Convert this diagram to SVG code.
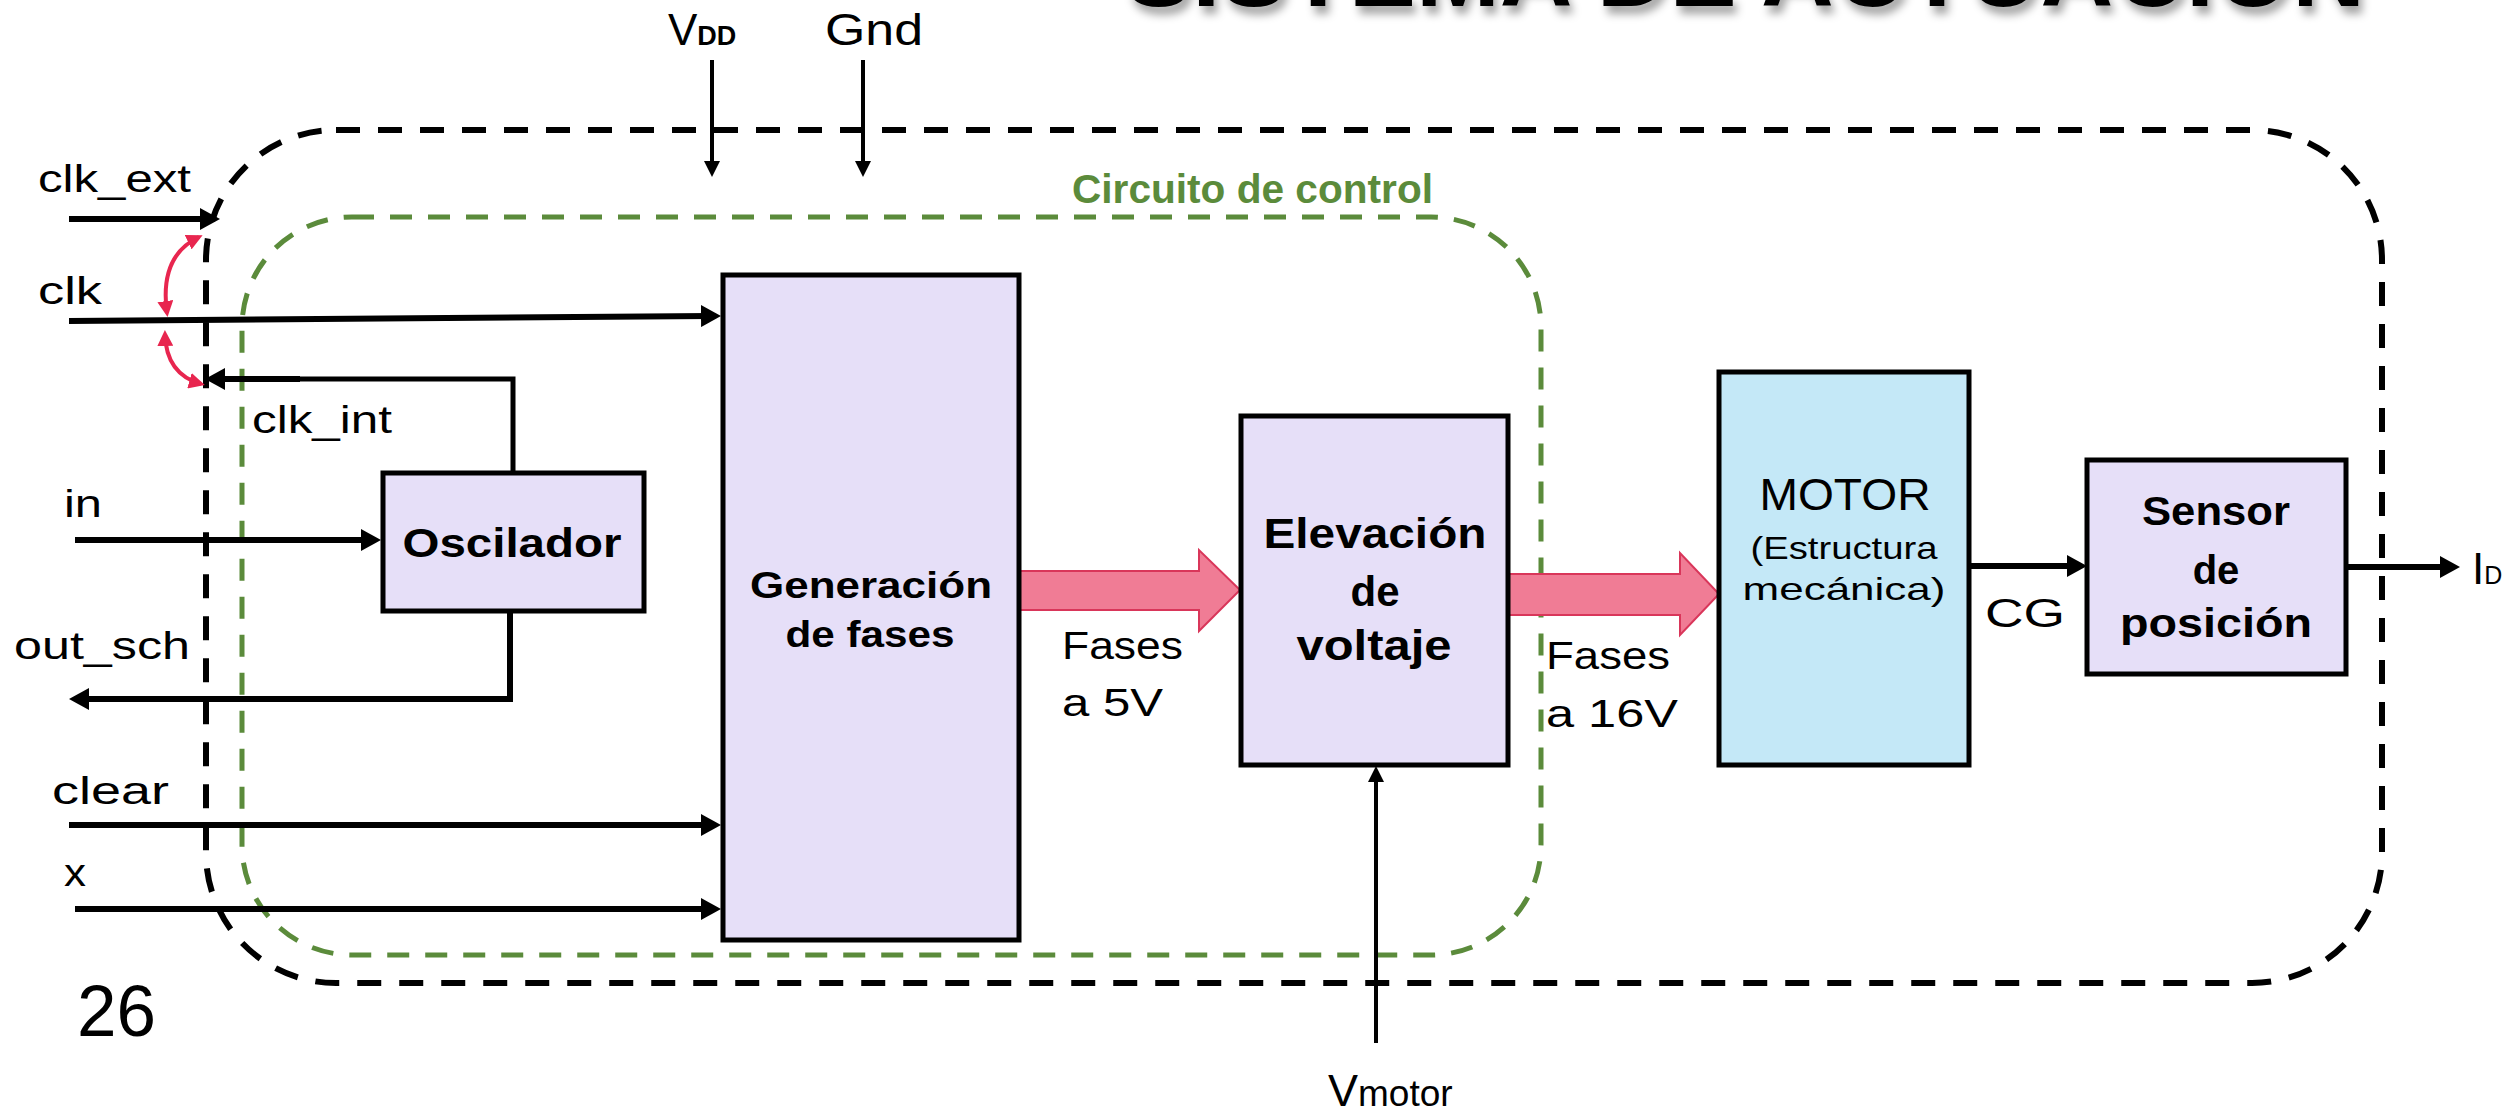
<svg xmlns="http://www.w3.org/2000/svg" width="2507" height="1113" viewBox="0 0 2507 1113">
<defs>
<style>
text{font-family:"Liberation Sans",Arial,sans-serif;fill:#000}
.lbl{font-size:38px}
.bold{font-weight:bold}
.blk{fill:#e6dff8;stroke:#000;stroke-width:5}
.mot{fill:#c4e8f7;stroke:#000;stroke-width:5}
.sig{fill:none;stroke:#000;stroke-width:6;marker-end:url(#ah)}
.thin{fill:none;stroke:#000;stroke-width:4;marker-end:url(#ahs)}
.red{fill:none;stroke:#e8264f;stroke-width:4;marker-start:url(#rh);marker-end:url(#rh)}
.fat{fill:#f07c95;stroke:#d9365a;stroke-width:2}
</style>
<marker id="ah" markerUnits="userSpaceOnUse" viewBox="0 0 20 22" refX="10" refY="11" markerWidth="20" markerHeight="22" orient="auto"><path d="M0,0 L20,11 L0,22 z" fill="#000"/></marker>
<marker id="ahs" markerUnits="userSpaceOnUse" viewBox="0 0 16 16" refX="8" refY="8" markerWidth="16" markerHeight="16" orient="auto"><path d="M0,0 L16,8 L0,16 z" fill="#000"/></marker>
<marker id="rh" markerUnits="userSpaceOnUse" viewBox="0 0 16 16" refX="12" refY="8" markerWidth="16" markerHeight="16" orient="auto-start-reverse"><path d="M0,0 L16,8 L0,16 z" fill="#e8264f"/></marker>
<filter id="sh" x="-5%" y="-50%" width="110%" height="200%"><feGaussianBlur in="SourceAlpha" stdDeviation="4"/><feOffset dx="4" dy="8" result="b"/><feFlood flood-color="#000" flood-opacity="0.35"/><feComposite in2="b" operator="in"/><feMerge><feMergeNode/><feMergeNode in="SourceGraphic"/></feMerge></filter>
</defs>
<rect width="2507" height="1113" fill="#fff"/>

<g id="title"><text x="1125" y="6" class="bold" font-size="100" textLength="1240" lengthAdjust="spacingAndGlyphs" filter="url(#sh)">SISTEMA DE ACTUACIÓN</text></g>

<g id="sistema"><rect x="206" y="130" width="2176" height="853" rx="130" fill="none" stroke="#000" stroke-width="6" stroke-dasharray="24 18"/></g>
<g id="circuito-control">
<rect x="242" y="217" width="1299" height="738" rx="110" fill="none" stroke="#5b8b3b" stroke-width="5" stroke-dasharray="22 16"/>
<text x="1072" y="203" class="bold" font-size="40" fill="#5b8b3b" style="fill:#5b8b3b" textLength="361" lengthAdjust="spacingAndGlyphs">Circuito de control</text>
</g>

<g id="connectors">
<line class="thin" x1="712" y1="60" x2="712" y2="169"/>
<line class="thin" x1="863" y1="60" x2="863" y2="169"/>
<line class="sig" x1="69" y1="219" x2="210" y2="219"/>
<line class="sig" x1="69" y1="321" x2="711" y2="316"/>
<polyline points="513,473 513,379 300,379" fill="none" stroke="#000" stroke-width="5"/>
<line class="sig" x1="300" y1="379" x2="215" y2="379"/>
<line class="sig" x1="75" y1="540" x2="371" y2="540"/>
<polyline class="sig" points="510,611 510,699 79,699"/>
<line class="sig" x1="69" y1="825" x2="711" y2="825"/>
<line class="sig" x1="75" y1="909" x2="711" y2="909"/>
<line class="sig" x1="1969" y1="566" x2="2077" y2="566"/>
<line class="sig" x1="2346" y1="567" x2="2450" y2="567"/>
<line class="thin" x1="1376" y1="1043" x2="1376" y2="774"/>
<path class="red" d="M167,313 Q159,256 199,237"/>
<path class="red" d="M165,334 Q166,374 201,384"/>
<polygon class="fat" points="1020,571 1199,571 1199,550 1240,590 1199,631 1199,610 1020,610"/>
<polygon class="fat" points="1508,574 1680,574 1680,553 1719,594 1680,635 1680,615 1508,615"/>
</g>

<g id="labels">
<text x="668" y="45" font-size="44">V<tspan class="bold" font-size="27">DD</tspan></text>
<text x="825" y="45" font-size="44" textLength="98" lengthAdjust="spacingAndGlyphs">Gnd</text>
<text x="38" y="192" class="lbl" textLength="153" lengthAdjust="spacingAndGlyphs">clk_ext</text>
<text x="38" y="304" class="lbl" textLength="64" lengthAdjust="spacingAndGlyphs">clk</text>
<text x="252" y="433" class="lbl" textLength="140" lengthAdjust="spacingAndGlyphs">clk_int</text>
<text x="64" y="517" class="lbl" textLength="38" lengthAdjust="spacingAndGlyphs">in</text>
<text x="14" y="659" class="lbl" textLength="176" lengthAdjust="spacingAndGlyphs">out_sch</text>
<text x="52" y="804" class="lbl" textLength="117" lengthAdjust="spacingAndGlyphs">clear</text>
<text x="64" y="886" class="lbl" textLength="22" lengthAdjust="spacingAndGlyphs">x</text>
<text x="77" y="1036" font-size="72" textLength="79" lengthAdjust="spacingAndGlyphs">26</text>
<text x="1062" y="659" class="lbl" textLength="121" lengthAdjust="spacingAndGlyphs">Fases</text>
<text x="1062" y="716" class="lbl" textLength="101" lengthAdjust="spacingAndGlyphs">a 5V</text>
<text x="1546" y="669" class="lbl" textLength="124" lengthAdjust="spacingAndGlyphs">Fases</text>
<text x="1546" y="727" class="lbl" textLength="132" lengthAdjust="spacingAndGlyphs">a 16V</text>
<text x="1985" y="627" font-size="40" textLength="80" lengthAdjust="spacingAndGlyphs">CG</text>
<text x="2472" y="584" font-size="44">I<tspan font-size="25">D</tspan></text>
<text x="1328" y="1106" font-size="45">V<tspan font-size="37">motor</tspan></text>
</g>

<g id="oscilador">
<rect class="blk" x="383" y="473" width="261" height="138"/>
<text x="512" y="557" class="bold" font-size="40" text-anchor="middle" textLength="219" lengthAdjust="spacingAndGlyphs">Oscilador</text>
</g>
<g id="generacion-fases">
<rect class="blk" x="723" y="275" width="296" height="665"/>
<text x="871" y="598" class="bold" font-size="37" text-anchor="middle" textLength="242" lengthAdjust="spacingAndGlyphs">Generación</text>
<text x="870" y="647" class="bold" font-size="37" text-anchor="middle" textLength="169" lengthAdjust="spacingAndGlyphs">de fases</text>
</g>
<g id="elevacion-voltaje">
<rect class="blk" x="1241" y="416" width="267" height="349"/>
<text x="1375" y="548" class="bold" font-size="42" text-anchor="middle" textLength="223" lengthAdjust="spacingAndGlyphs">Elevación</text>
<text x="1375" y="606" class="bold" font-size="42" text-anchor="middle">de</text>
<text x="1374" y="660" class="bold" font-size="42" text-anchor="middle" textLength="155" lengthAdjust="spacingAndGlyphs">voltaje</text>
</g>
<g id="motor">
<rect class="mot" x="1719" y="372" width="250" height="393"/>
<text x="1845" y="510" font-size="44" text-anchor="middle" textLength="171" lengthAdjust="spacingAndGlyphs">MOTOR</text>
<text x="1844" y="559" font-size="32" text-anchor="middle" textLength="187" lengthAdjust="spacingAndGlyphs">(Estructura</text>
<text x="1844" y="600" font-size="32" text-anchor="middle" textLength="203" lengthAdjust="spacingAndGlyphs">mecánica)</text>
</g>
<g id="sensor-posicion">
<rect class="blk" x="2087" y="460" width="259" height="214"/>
<text x="2216" y="525" class="bold" font-size="40" text-anchor="middle" textLength="148" lengthAdjust="spacingAndGlyphs">Sensor</text>
<text x="2216" y="584" class="bold" font-size="40" text-anchor="middle">de</text>
<text x="2216" y="637" class="bold" font-size="40" text-anchor="middle" textLength="192" lengthAdjust="spacingAndGlyphs">posición</text>
</g>
</svg>
